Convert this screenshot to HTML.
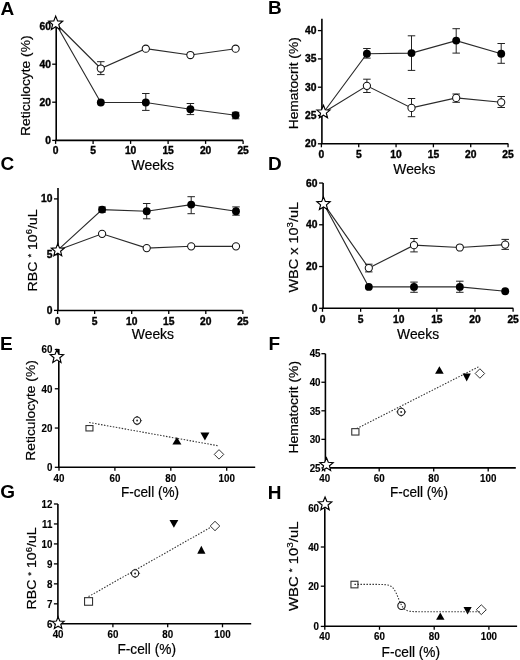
<!DOCTYPE html>
<html><head><meta charset="utf-8"><style>
html,body{margin:0;padding:0;background:#fff;}
svg{display:block;filter:blur(0.35px);}
text{font-family:"Liberation Sans", sans-serif;fill:#000;}
</style></head><body>
<svg width="520" height="660" viewBox="0 0 520 660">
<rect width="520" height="660" fill="#fff"/>
<text x="0.6" y="14.7" font-size="19" font-weight="bold" text-anchor="start" >A</text>
<text x="268.0" y="13.6" font-size="19" font-weight="bold" text-anchor="start" >B</text>
<text x="0.4" y="170.0" font-size="19" font-weight="bold" text-anchor="start" >C</text>
<text x="268.0" y="170.2" font-size="19" font-weight="bold" text-anchor="start" >D</text>
<text x="0.0" y="350.0" font-size="19" font-weight="bold" text-anchor="start" >E</text>
<text x="268.4" y="350.2" font-size="19" font-weight="bold" text-anchor="start" >F</text>
<text x="0.2" y="498.2" font-size="19" font-weight="bold" text-anchor="start" >G</text>
<text x="267.8" y="499.1" font-size="19" font-weight="bold" text-anchor="start" >H</text>
<path d="M56.2,24V140.4" stroke="#000" stroke-width="1.6" fill="none"/>
<path d="M55.400000000000006,140.4H243.1" stroke="#000" stroke-width="1.6" fill="none"/>
<path d="M52.2,140.4H56.2" stroke="#000" stroke-width="1.3" fill="none"/>
<text transform="translate(51.00,143.98) scale(1.03,1)" font-size="10" font-weight="bold" text-anchor="end" stroke="#000" stroke-width="0.35">0</text>
<path d="M52.2,102.2H56.2" stroke="#000" stroke-width="1.3" fill="none"/>
<text transform="translate(51.00,105.78) scale(1.03,1)" font-size="10" font-weight="bold" text-anchor="end" stroke="#000" stroke-width="0.35">20</text>
<path d="M52.2,64.2H56.2" stroke="#000" stroke-width="1.3" fill="none"/>
<text transform="translate(51.00,67.78) scale(1.03,1)" font-size="10" font-weight="bold" text-anchor="end" stroke="#000" stroke-width="0.35">40</text>
<path d="M52.2,26.3H56.2" stroke="#000" stroke-width="1.3" fill="none"/>
<text transform="translate(51.00,29.88) scale(1.03,1)" font-size="10" font-weight="bold" text-anchor="end" stroke="#000" stroke-width="0.35">60</text>
<path d="M55.6,140.4V143.9" stroke="#000" stroke-width="1.3" fill="none"/>
<text transform="translate(55.60,154.48) scale(1.03,1)" font-size="10" font-weight="bold" text-anchor="middle" stroke="#000" stroke-width="0.35">0</text>
<path d="M93.1,140.4V143.9" stroke="#000" stroke-width="1.3" fill="none"/>
<text transform="translate(93.10,154.48) scale(1.03,1)" font-size="10" font-weight="bold" text-anchor="middle" stroke="#000" stroke-width="0.35">5</text>
<path d="M130.6,140.4V143.9" stroke="#000" stroke-width="1.3" fill="none"/>
<text transform="translate(130.60,154.48) scale(1.03,1)" font-size="10" font-weight="bold" text-anchor="middle" stroke="#000" stroke-width="0.35">10</text>
<path d="M168.1,140.4V143.9" stroke="#000" stroke-width="1.3" fill="none"/>
<text transform="translate(168.10,154.48) scale(1.03,1)" font-size="10" font-weight="bold" text-anchor="middle" stroke="#000" stroke-width="0.35">15</text>
<path d="M205.6,140.4V143.9" stroke="#000" stroke-width="1.3" fill="none"/>
<text transform="translate(205.60,154.48) scale(1.03,1)" font-size="10" font-weight="bold" text-anchor="middle" stroke="#000" stroke-width="0.35">20</text>
<path d="M243.1,140.4V143.9" stroke="#000" stroke-width="1.3" fill="none"/>
<text transform="translate(243.10,154.48) scale(1.03,1)" font-size="10" font-weight="bold" text-anchor="middle" stroke="#000" stroke-width="0.35">25</text>
<text transform="translate(29.8,85.65) rotate(-90)" font-size="13.6" text-anchor="middle" textLength="100.5" lengthAdjust="spacingAndGlyphs" stroke="#000" stroke-width="0.2">Reticulocyte (%)</text>
<text x="152.7" y="170.0" font-size="14" text-anchor="middle" textLength="42.5" lengthAdjust="spacingAndGlyphs" stroke="#000" stroke-width="0.2">Weeks</text>
<path d="M55.7,23.5 L100.8,68.5 L145.8,48.7 L190.4,55 L235.6,48.7" stroke="#2a2a2a" stroke-width="1.15" fill="none"/>
<path d="M55.7,23.5 L100.8,102.5 L145.8,102.5 L190.4,109.2 L235.6,115.2" stroke="#2a2a2a" stroke-width="1.15" fill="none"/>
<path d="M97.05,61.7H104.55M100.8,61.7V74.6M97.05,74.6H104.55" stroke="#222" stroke-width="1.0" fill="none"/>
<path d="M142.05,93.5H149.55M145.8,93.5V110.4M142.05,110.4H149.55" stroke="#222" stroke-width="1.0" fill="none"/>
<path d="M186.65,103.5H194.15M190.4,103.5V114.6M186.65,114.6H194.15" stroke="#222" stroke-width="1.0" fill="none"/>
<path d="M231.85,112.3H239.35M235.6,112.3V118.8M231.85,118.8H239.35" stroke="#222" stroke-width="1.0" fill="none"/>
<circle cx="100.8" cy="68.5" r="3.6" fill="#fff" stroke="#111" stroke-width="1.05"/>
<circle cx="145.8" cy="48.7" r="3.6" fill="#fff" stroke="#111" stroke-width="1.05"/>
<circle cx="190.4" cy="55" r="3.6" fill="#fff" stroke="#111" stroke-width="1.05"/>
<circle cx="235.6" cy="48.7" r="3.6" fill="#fff" stroke="#111" stroke-width="1.05"/>
<circle cx="100.8" cy="102.5" r="3.95" fill="#000"/>
<circle cx="145.8" cy="102.5" r="3.95" fill="#000"/>
<circle cx="190.4" cy="109.2" r="3.95" fill="#000"/>
<circle cx="235.6" cy="115.2" r="3.95" fill="#000"/>
<polygon points="55.70,16.15 57.60,20.88 62.69,21.23 58.78,24.50 60.02,29.45 55.70,26.73 51.38,29.45 52.62,24.50 48.71,21.23 53.80,20.88" fill="#fff" stroke="#000" stroke-width="1.15" stroke-linejoin="miter"/>
<path d="M321.9,18.7V143.8" stroke="#000" stroke-width="1.6" fill="none"/>
<path d="M321.09999999999997,143.8H508.3" stroke="#000" stroke-width="1.6" fill="none"/>
<path d="M317.9,143.8H321.9" stroke="#000" stroke-width="1.3" fill="none"/>
<text transform="translate(316.50,147.38) scale(1.03,1)" font-size="10" font-weight="bold" text-anchor="end" stroke="#000" stroke-width="0.35">20</text>
<path d="M317.9,115.50000000000001H321.9" stroke="#000" stroke-width="1.3" fill="none"/>
<text transform="translate(316.50,119.08) scale(1.03,1)" font-size="10" font-weight="bold" text-anchor="end" stroke="#000" stroke-width="0.35">25</text>
<path d="M317.9,87.20000000000002H321.9" stroke="#000" stroke-width="1.3" fill="none"/>
<text transform="translate(316.50,90.78) scale(1.03,1)" font-size="10" font-weight="bold" text-anchor="end" stroke="#000" stroke-width="0.35">30</text>
<path d="M317.9,58.900000000000006H321.9" stroke="#000" stroke-width="1.3" fill="none"/>
<text transform="translate(316.50,62.48) scale(1.03,1)" font-size="10" font-weight="bold" text-anchor="end" stroke="#000" stroke-width="0.35">35</text>
<path d="M317.9,30.60000000000001H321.9" stroke="#000" stroke-width="1.3" fill="none"/>
<text transform="translate(316.50,34.18) scale(1.03,1)" font-size="10" font-weight="bold" text-anchor="end" stroke="#000" stroke-width="0.35">40</text>
<path d="M321.4,143.8V147.3" stroke="#000" stroke-width="1.3" fill="none"/>
<text transform="translate(321.40,157.98) scale(1.03,1)" font-size="10" font-weight="bold" text-anchor="middle" stroke="#000" stroke-width="0.35">0</text>
<path d="M358.72999999999996,143.8V147.3" stroke="#000" stroke-width="1.3" fill="none"/>
<text transform="translate(358.73,157.98) scale(1.03,1)" font-size="10" font-weight="bold" text-anchor="middle" stroke="#000" stroke-width="0.35">5</text>
<path d="M396.05999999999995,143.8V147.3" stroke="#000" stroke-width="1.3" fill="none"/>
<text transform="translate(396.06,157.98) scale(1.03,1)" font-size="10" font-weight="bold" text-anchor="middle" stroke="#000" stroke-width="0.35">10</text>
<path d="M433.39,143.8V147.3" stroke="#000" stroke-width="1.3" fill="none"/>
<text transform="translate(433.39,157.98) scale(1.03,1)" font-size="10" font-weight="bold" text-anchor="middle" stroke="#000" stroke-width="0.35">15</text>
<path d="M470.71999999999997,143.8V147.3" stroke="#000" stroke-width="1.3" fill="none"/>
<text transform="translate(470.72,157.98) scale(1.03,1)" font-size="10" font-weight="bold" text-anchor="middle" stroke="#000" stroke-width="0.35">20</text>
<path d="M508.04999999999995,143.8V147.3" stroke="#000" stroke-width="1.3" fill="none"/>
<text transform="translate(508.05,157.98) scale(1.03,1)" font-size="10" font-weight="bold" text-anchor="middle" stroke="#000" stroke-width="0.35">25</text>
<text transform="translate(297.6,83.25) rotate(-90)" font-size="13.6" text-anchor="middle" textLength="92.25" lengthAdjust="spacingAndGlyphs" stroke="#000" stroke-width="0.2">Hematocrit (%)</text>
<text x="414.35" y="173.6" font-size="14" text-anchor="middle" textLength="42" lengthAdjust="spacingAndGlyphs" stroke="#000" stroke-width="0.2">Weeks</text>
<path d="M323.5,112.5 L366.9,53.7 L411.5,53.1 L456.2,40.6 L501.2,53.7" stroke="#2a2a2a" stroke-width="1.15" fill="none"/>
<path d="M323.5,112.5 L366.9,85.8 L411.5,107.9 L456.2,97.9 L501.2,102.3" stroke="#2a2a2a" stroke-width="1.15" fill="none"/>
<path d="M363.15,48.5H370.65M366.9,48.5V58.1M363.15,58.1H370.65" stroke="#222" stroke-width="1.0" fill="none"/>
<path d="M407.75,35.8H415.25M411.5,35.8V70.4M407.75,70.4H415.25" stroke="#222" stroke-width="1.0" fill="none"/>
<path d="M452.45,28.7H459.95M456.2,28.7V53.1M452.45,53.1H459.95" stroke="#222" stroke-width="1.0" fill="none"/>
<path d="M497.45,43.5H504.95M501.2,43.5V63.3M497.45,63.3H504.95" stroke="#222" stroke-width="1.0" fill="none"/>
<path d="M363.15,79.2H370.65M366.9,79.2V92.5M363.15,92.5H370.65" stroke="#222" stroke-width="1.0" fill="none"/>
<path d="M407.75,98.5H415.25M411.5,98.5V116.7M407.75,116.7H415.25" stroke="#222" stroke-width="1.0" fill="none"/>
<path d="M452.45,94H459.95M456.2,94V102.3M452.45,102.3H459.95" stroke="#222" stroke-width="1.0" fill="none"/>
<path d="M497.45,96.5H504.95M501.2,96.5V107.5M497.45,107.5H504.95" stroke="#222" stroke-width="1.0" fill="none"/>
<circle cx="366.9" cy="85.8" r="3.6" fill="#fff" stroke="#111" stroke-width="1.05"/>
<circle cx="411.5" cy="107.9" r="3.6" fill="#fff" stroke="#111" stroke-width="1.05"/>
<circle cx="456.2" cy="97.9" r="3.6" fill="#fff" stroke="#111" stroke-width="1.05"/>
<circle cx="501.2" cy="102.3" r="3.6" fill="#fff" stroke="#111" stroke-width="1.05"/>
<circle cx="366.9" cy="53.7" r="3.95" fill="#000"/>
<circle cx="411.5" cy="53.1" r="3.95" fill="#000"/>
<circle cx="456.2" cy="40.6" r="3.95" fill="#000"/>
<circle cx="501.2" cy="53.7" r="3.95" fill="#000"/>
<polygon points="323.45,105.30 325.23,109.74 330.01,110.07 326.34,113.14 327.51,117.78 323.45,115.24 319.39,117.78 320.56,113.14 316.89,110.07 321.67,109.74" fill="#fff" stroke="#000" stroke-width="1.15" stroke-linejoin="miter"/>
<path d="M58.0,187.9V310.5" stroke="#000" stroke-width="1.6" fill="none"/>
<path d="M57.2,310.5H242.5" stroke="#000" stroke-width="1.6" fill="none"/>
<path d="M54.0,310.4H58.0" stroke="#000" stroke-width="1.3" fill="none"/>
<text transform="translate(52.50,313.98) scale(1.03,1)" font-size="10" font-weight="bold" text-anchor="end" stroke="#000" stroke-width="0.35">0</text>
<path d="M54.0,254.64999999999998H58.0" stroke="#000" stroke-width="1.3" fill="none"/>
<text transform="translate(52.50,258.23) scale(1.03,1)" font-size="10" font-weight="bold" text-anchor="end" stroke="#000" stroke-width="0.35">5</text>
<path d="M54.0,198.89999999999998H58.0" stroke="#000" stroke-width="1.3" fill="none"/>
<text transform="translate(52.50,202.48) scale(1.03,1)" font-size="10" font-weight="bold" text-anchor="end" stroke="#000" stroke-width="0.35">10</text>
<path d="M57.6,310.5V314.0" stroke="#000" stroke-width="1.3" fill="none"/>
<text transform="translate(57.60,324.88) scale(1.03,1)" font-size="10" font-weight="bold" text-anchor="middle" stroke="#000" stroke-width="0.35">0</text>
<path d="M94.65,310.5V314.0" stroke="#000" stroke-width="1.3" fill="none"/>
<text transform="translate(94.65,324.88) scale(1.03,1)" font-size="10" font-weight="bold" text-anchor="middle" stroke="#000" stroke-width="0.35">5</text>
<path d="M131.7,310.5V314.0" stroke="#000" stroke-width="1.3" fill="none"/>
<text transform="translate(131.70,324.88) scale(1.03,1)" font-size="10" font-weight="bold" text-anchor="middle" stroke="#000" stroke-width="0.35">10</text>
<path d="M168.75,310.5V314.0" stroke="#000" stroke-width="1.3" fill="none"/>
<text transform="translate(168.75,324.88) scale(1.03,1)" font-size="10" font-weight="bold" text-anchor="middle" stroke="#000" stroke-width="0.35">15</text>
<path d="M205.79999999999998,310.5V314.0" stroke="#000" stroke-width="1.3" fill="none"/>
<text transform="translate(205.80,324.88) scale(1.03,1)" font-size="10" font-weight="bold" text-anchor="middle" stroke="#000" stroke-width="0.35">20</text>
<path d="M242.85,310.5V314.0" stroke="#000" stroke-width="1.3" fill="none"/>
<text transform="translate(242.85,324.88) scale(1.03,1)" font-size="10" font-weight="bold" text-anchor="middle" stroke="#000" stroke-width="0.35">25</text>
<text transform="translate(36.9,250.4) rotate(-90)" font-size="13.6" text-anchor="middle" textLength="82" lengthAdjust="spacingAndGlyphs" stroke="#000" stroke-width="0.2">RBC <tspan font-size="9" dy="-2.5">*</tspan><tspan dy="2.5"> 10</tspan><tspan font-size="9" dy="-4.5">6</tspan><tspan dy="4.5">/uL</tspan></text>
<text x="152.9" y="339.1" font-size="14" text-anchor="middle" textLength="42.3" lengthAdjust="spacingAndGlyphs" stroke="#000" stroke-width="0.2">Weeks</text>
<path d="M57.5,250.3 L102.1,209.6 L146.7,211.2 L191.2,204.6 L236,211.2" stroke="#2a2a2a" stroke-width="1.15" fill="none"/>
<path d="M57.5,250.3 L102.1,233.8 L146.7,248.1 L191.2,246.3 L236,246.3" stroke="#2a2a2a" stroke-width="1.15" fill="none"/>
<path d="M98.35,207H105.85M102.1,207V212.2M98.35,212.2H105.85" stroke="#222" stroke-width="1.0" fill="none"/>
<path d="M142.95,203.5H150.45M146.7,203.5V218.8M142.95,218.8H150.45" stroke="#222" stroke-width="1.0" fill="none"/>
<path d="M187.45,196.7H194.95M191.2,196.7V213.7M187.45,213.7H194.95" stroke="#222" stroke-width="1.0" fill="none"/>
<path d="M232.25,206.9H239.75M236,206.9V215.2M232.25,215.2H239.75" stroke="#222" stroke-width="1.0" fill="none"/>
<circle cx="102.1" cy="233.8" r="3.6" fill="#fff" stroke="#111" stroke-width="1.05"/>
<circle cx="146.7" cy="248.1" r="3.6" fill="#fff" stroke="#111" stroke-width="1.05"/>
<circle cx="191.2" cy="246.3" r="3.6" fill="#fff" stroke="#111" stroke-width="1.05"/>
<circle cx="236" cy="246.3" r="3.6" fill="#fff" stroke="#111" stroke-width="1.05"/>
<circle cx="102.1" cy="209.6" r="3.95" fill="#000"/>
<circle cx="146.7" cy="211.2" r="3.95" fill="#000"/>
<circle cx="191.2" cy="204.6" r="3.95" fill="#000"/>
<circle cx="236" cy="211.2" r="3.95" fill="#000"/>
<polygon points="57.80,243.60 59.53,247.92 64.17,248.23 60.60,251.21 61.74,255.72 57.80,253.25 53.86,255.72 55.00,251.21 51.43,248.23 56.07,247.92" fill="#fff" stroke="#000" stroke-width="1.15" stroke-linejoin="miter"/>
<path d="M323.1,183V308.3" stroke="#000" stroke-width="1.6" fill="none"/>
<path d="M322.3,308.3H513.3" stroke="#000" stroke-width="1.6" fill="none"/>
<path d="M319.1,308.3H323.1" stroke="#000" stroke-width="1.3" fill="none"/>
<text transform="translate(317.50,311.88) scale(1.03,1)" font-size="10" font-weight="bold" text-anchor="end" stroke="#000" stroke-width="0.35">0</text>
<path d="M319.1,266.54H323.1" stroke="#000" stroke-width="1.3" fill="none"/>
<text transform="translate(317.50,270.12) scale(1.03,1)" font-size="10" font-weight="bold" text-anchor="end" stroke="#000" stroke-width="0.35">20</text>
<path d="M319.1,224.78H323.1" stroke="#000" stroke-width="1.3" fill="none"/>
<text transform="translate(317.50,228.36) scale(1.03,1)" font-size="10" font-weight="bold" text-anchor="end" stroke="#000" stroke-width="0.35">40</text>
<path d="M319.1,183.02H323.1" stroke="#000" stroke-width="1.3" fill="none"/>
<text transform="translate(317.50,186.60) scale(1.03,1)" font-size="10" font-weight="bold" text-anchor="end" stroke="#000" stroke-width="0.35">60</text>
<path d="M322.5,308.3V311.8" stroke="#000" stroke-width="1.3" fill="none"/>
<text transform="translate(322.50,322.58) scale(1.03,1)" font-size="10" font-weight="bold" text-anchor="middle" stroke="#000" stroke-width="0.35">0</text>
<path d="M360.62,308.3V311.8" stroke="#000" stroke-width="1.3" fill="none"/>
<text transform="translate(360.62,322.58) scale(1.03,1)" font-size="10" font-weight="bold" text-anchor="middle" stroke="#000" stroke-width="0.35">5</text>
<path d="M398.74,308.3V311.8" stroke="#000" stroke-width="1.3" fill="none"/>
<text transform="translate(398.74,322.58) scale(1.03,1)" font-size="10" font-weight="bold" text-anchor="middle" stroke="#000" stroke-width="0.35">10</text>
<path d="M436.86,308.3V311.8" stroke="#000" stroke-width="1.3" fill="none"/>
<text transform="translate(436.86,322.58) scale(1.03,1)" font-size="10" font-weight="bold" text-anchor="middle" stroke="#000" stroke-width="0.35">15</text>
<path d="M474.98,308.3V311.8" stroke="#000" stroke-width="1.3" fill="none"/>
<text transform="translate(474.98,322.58) scale(1.03,1)" font-size="10" font-weight="bold" text-anchor="middle" stroke="#000" stroke-width="0.35">20</text>
<path d="M513.1,308.3V311.8" stroke="#000" stroke-width="1.3" fill="none"/>
<text transform="translate(513.10,322.58) scale(1.03,1)" font-size="10" font-weight="bold" text-anchor="middle" stroke="#000" stroke-width="0.35">25</text>
<text transform="translate(297.6,247.25) rotate(-90)" font-size="13.6" text-anchor="middle" textLength="90.6" lengthAdjust="spacingAndGlyphs" stroke="#000" stroke-width="0.2">WBC x 10<tspan font-size="9" dy="-4.5">3</tspan><tspan dy="4.5">/uL</tspan></text>
<text x="418.1" y="339.2" font-size="14" text-anchor="middle" textLength="42" lengthAdjust="spacingAndGlyphs" stroke="#000" stroke-width="0.2">Weeks</text>
<path d="M323.8,203.9 L368.8,268.1 L414,245.2 L459.8,247.5 L505.2,244.6" stroke="#2a2a2a" stroke-width="1.15" fill="none"/>
<path d="M323.8,203.9 L368.8,286.9 L414,286.9 L459.8,286.9 L505.2,291.2" stroke="#2a2a2a" stroke-width="1.15" fill="none"/>
<path d="M365.05,264.2H372.55M368.8,264.2V271.9M365.05,271.9H372.55" stroke="#222" stroke-width="1.0" fill="none"/>
<path d="M410.25,238.5H417.75M414,238.5V251.9M410.25,251.9H417.75" stroke="#222" stroke-width="1.0" fill="none"/>
<path d="M501.45,239.4H508.95M505.2,239.4V249.4M501.45,249.4H508.95" stroke="#222" stroke-width="1.0" fill="none"/>
<path d="M410.25,282.1H417.75M414,282.1V292.3M410.25,292.3H417.75" stroke="#222" stroke-width="1.0" fill="none"/>
<path d="M456.05,281.2H463.55M459.8,281.2V292.3M456.05,292.3H463.55" stroke="#222" stroke-width="1.0" fill="none"/>
<circle cx="368.8" cy="268.1" r="3.6" fill="#fff" stroke="#111" stroke-width="1.05"/>
<circle cx="414" cy="245.2" r="3.6" fill="#fff" stroke="#111" stroke-width="1.05"/>
<circle cx="459.8" cy="247.5" r="3.6" fill="#fff" stroke="#111" stroke-width="1.05"/>
<circle cx="505.2" cy="244.6" r="3.6" fill="#fff" stroke="#111" stroke-width="1.05"/>
<circle cx="368.8" cy="286.9" r="3.95" fill="#000"/>
<circle cx="414" cy="286.9" r="3.95" fill="#000"/>
<circle cx="459.8" cy="286.9" r="3.95" fill="#000"/>
<circle cx="505.2" cy="291.2" r="3.95" fill="#000"/>
<polygon points="323.50,196.90 325.31,201.41 330.16,201.74 326.43,204.85 327.61,209.56 323.50,206.98 319.39,209.56 320.57,204.85 316.84,201.74 321.69,201.41" fill="#fff" stroke="#000" stroke-width="1.15" stroke-linejoin="miter"/>
<path d="M58.8,349V467.3" stroke="#000" stroke-width="1.6" fill="none"/>
<path d="M58.0,467.3H255.2" stroke="#000" stroke-width="1.6" fill="none"/>
<path d="M54.8,467.3H58.8" stroke="#000" stroke-width="1.3" fill="none"/>
<text transform="translate(52.40,471.02) scale(0.94,1)" font-size="10.4" font-weight="bold" text-anchor="end" stroke="#000" stroke-width="0.15">0</text>
<path d="M54.8,428.04H58.8" stroke="#000" stroke-width="1.3" fill="none"/>
<text transform="translate(52.40,431.76) scale(0.94,1)" font-size="10.4" font-weight="bold" text-anchor="end" stroke="#000" stroke-width="0.15">20</text>
<path d="M54.8,388.78H58.8" stroke="#000" stroke-width="1.3" fill="none"/>
<text transform="translate(52.40,392.50) scale(0.94,1)" font-size="10.4" font-weight="bold" text-anchor="end" stroke="#000" stroke-width="0.15">40</text>
<path d="M54.8,349.52H58.8" stroke="#000" stroke-width="1.3" fill="none"/>
<text transform="translate(52.40,353.24) scale(0.94,1)" font-size="10.4" font-weight="bold" text-anchor="end" stroke="#000" stroke-width="0.15">60</text>
<path d="M59.0,467.3V470.8" stroke="#000" stroke-width="1.3" fill="none"/>
<text transform="translate(59.00,482.32) scale(0.94,1)" font-size="10.4" font-weight="bold" text-anchor="middle" stroke="#000" stroke-width="0.15">40</text>
<path d="M114.9,467.3V470.8" stroke="#000" stroke-width="1.3" fill="none"/>
<text transform="translate(114.90,482.32) scale(0.94,1)" font-size="10.4" font-weight="bold" text-anchor="middle" stroke="#000" stroke-width="0.15">60</text>
<path d="M170.8,467.3V470.8" stroke="#000" stroke-width="1.3" fill="none"/>
<text transform="translate(170.80,482.32) scale(0.94,1)" font-size="10.4" font-weight="bold" text-anchor="middle" stroke="#000" stroke-width="0.15">80</text>
<path d="M226.7,467.3V470.8" stroke="#000" stroke-width="1.3" fill="none"/>
<text transform="translate(226.70,482.32) scale(0.94,1)" font-size="10.4" font-weight="bold" text-anchor="middle" stroke="#000" stroke-width="0.15">100</text>
<text transform="translate(34.6,410.4) rotate(-90)" font-size="13.6" text-anchor="middle" textLength="100.5" lengthAdjust="spacingAndGlyphs" stroke="#000" stroke-width="0.2">Reticulocyte (%)</text>
<text x="150" y="497.2" font-size="14" text-anchor="middle" textLength="58" lengthAdjust="spacingAndGlyphs" stroke="#000" stroke-width="0.2">F-cell (%)</text>
<path d="M89.2,422.5 L218.3,445.8" stroke="#333" stroke-width="1.1" fill="none" stroke-dasharray="1.5,1.5"/>
<rect x="85.95" y="425.55" width="7.0" height="5.4" fill="#fff" stroke="#333" stroke-width="1.1"/>
<polygon points="137.1,416.1 141.6,420.6 137.1,425.1 132.6,420.6" fill="#fff" stroke="#333" stroke-width="0.9"/>
<circle cx="137.1" cy="420.6" r="3.6" fill="#fff" stroke="#222" stroke-width="1.1"/><circle cx="137.1" cy="420.6" r="1.0" fill="#333"/>
<polygon points="172.4,444.55 181.4,444.55 176.9,437.05" fill="#000"/>
<polygon points="200.4,432.4 209.4,432.4 204.9,440.4" fill="#000"/>
<polygon points="219,449.65 223.75,454.4 219,459.15 214.25,454.4" fill="#fff" stroke="#333" stroke-width="1.0"/>
<polygon points="56.90,349.80 58.71,354.31 63.56,354.64 59.83,357.75 61.01,362.46 56.90,359.88 52.79,362.46 53.97,357.75 50.24,354.64 55.09,354.31" fill="#fff" stroke="#000" stroke-width="1.15" stroke-linejoin="miter"/>
<path d="M325.4,353.7V467.9" stroke="#000" stroke-width="1.6" fill="none"/>
<path d="M324.59999999999997,467.9H515.8" stroke="#000" stroke-width="1.6" fill="none"/>
<path d="M321.4,467.9H325.4" stroke="#000" stroke-width="1.3" fill="none"/>
<text transform="translate(320.50,471.62) scale(0.94,1)" font-size="10.4" font-weight="bold" text-anchor="end" stroke="#000" stroke-width="0.15">25</text>
<path d="M321.4,439.34999999999997H325.4" stroke="#000" stroke-width="1.3" fill="none"/>
<text transform="translate(320.50,443.07) scale(0.94,1)" font-size="10.4" font-weight="bold" text-anchor="end" stroke="#000" stroke-width="0.15">30</text>
<path d="M321.4,410.79999999999995H325.4" stroke="#000" stroke-width="1.3" fill="none"/>
<text transform="translate(320.50,414.52) scale(0.94,1)" font-size="10.4" font-weight="bold" text-anchor="end" stroke="#000" stroke-width="0.15">35</text>
<path d="M321.4,382.25H325.4" stroke="#000" stroke-width="1.3" fill="none"/>
<text transform="translate(320.50,385.97) scale(0.94,1)" font-size="10.4" font-weight="bold" text-anchor="end" stroke="#000" stroke-width="0.15">40</text>
<path d="M321.4,353.7H325.4" stroke="#000" stroke-width="1.3" fill="none"/>
<text transform="translate(320.50,357.42) scale(0.94,1)" font-size="10.4" font-weight="bold" text-anchor="end" stroke="#000" stroke-width="0.15">45</text>
<path d="M324.7,467.9V471.4" stroke="#000" stroke-width="1.3" fill="none"/>
<text transform="translate(324.70,481.52) scale(0.94,1)" font-size="10.4" font-weight="bold" text-anchor="middle" stroke="#000" stroke-width="0.15">40</text>
<path d="M379.2,467.9V471.4" stroke="#000" stroke-width="1.3" fill="none"/>
<text transform="translate(379.20,481.52) scale(0.94,1)" font-size="10.4" font-weight="bold" text-anchor="middle" stroke="#000" stroke-width="0.15">60</text>
<path d="M433.7,467.9V471.4" stroke="#000" stroke-width="1.3" fill="none"/>
<text transform="translate(433.70,481.52) scale(0.94,1)" font-size="10.4" font-weight="bold" text-anchor="middle" stroke="#000" stroke-width="0.15">80</text>
<path d="M488.2,467.9V471.4" stroke="#000" stroke-width="1.3" fill="none"/>
<text transform="translate(488.20,481.52) scale(0.94,1)" font-size="10.4" font-weight="bold" text-anchor="middle" stroke="#000" stroke-width="0.15">100</text>
<text transform="translate(297.6,407.25) rotate(-90)" font-size="13.6" text-anchor="middle" textLength="92.6" lengthAdjust="spacingAndGlyphs" stroke="#000" stroke-width="0.2">Hematocrit (%)</text>
<text x="418.95" y="497.0" font-size="14" text-anchor="middle" textLength="58" lengthAdjust="spacingAndGlyphs" stroke="#000" stroke-width="0.2">F-cell (%)</text>
<path d="M356.7,428.6 L479.6,366.3" stroke="#333" stroke-width="1.1" fill="none" stroke-dasharray="1.5,1.5"/>
<rect x="351.75" y="428.65" width="7.2" height="6.4" fill="#fff" stroke="#333" stroke-width="1.1"/>
<polygon points="401.2,407.4 405.7,411.9 401.2,416.4 396.7,411.9" fill="#fff" stroke="#333" stroke-width="0.9"/>
<circle cx="401.2" cy="411.9" r="3.6" fill="#fff" stroke="#222" stroke-width="1.1"/><circle cx="401.2" cy="411.9" r="1.0" fill="#333"/>
<polygon points="435.09999999999997,373.7 443.7,373.7 439.4,366.3" fill="#000"/>
<polygon points="462.59999999999997,373.6 470.8,373.6 466.7,381.4" fill="#000"/>
<polygon points="479.9,368.75 484.65,373.5 479.9,378.25 475.15,373.5" fill="#fff" stroke="#333" stroke-width="1.0"/>
<polygon points="326.50,457.80 328.31,462.31 333.16,462.64 329.43,465.75 330.61,470.46 326.50,467.88 322.39,470.46 323.57,465.75 319.84,462.64 324.69,462.31" fill="#fff" stroke="#000" stroke-width="1.15" stroke-linejoin="miter"/>
<path d="M57.9,504V623.8" stroke="#000" stroke-width="1.6" fill="none"/>
<path d="M57.1,623.8H251.2" stroke="#000" stroke-width="1.6" fill="none"/>
<path d="M53.9,623.8H57.9" stroke="#000" stroke-width="1.3" fill="none"/>
<text transform="translate(52.40,627.52) scale(0.94,1)" font-size="10.4" font-weight="bold" text-anchor="end" stroke="#000" stroke-width="0.15">6</text>
<path d="M53.9,603.8299999999999H57.9" stroke="#000" stroke-width="1.3" fill="none"/>
<text transform="translate(52.40,607.55) scale(0.94,1)" font-size="10.4" font-weight="bold" text-anchor="end" stroke="#000" stroke-width="0.15">7</text>
<path d="M53.9,583.8599999999999H57.9" stroke="#000" stroke-width="1.3" fill="none"/>
<text transform="translate(52.40,587.58) scale(0.94,1)" font-size="10.4" font-weight="bold" text-anchor="end" stroke="#000" stroke-width="0.15">8</text>
<path d="M53.9,563.89H57.9" stroke="#000" stroke-width="1.3" fill="none"/>
<text transform="translate(52.40,567.61) scale(0.94,1)" font-size="10.4" font-weight="bold" text-anchor="end" stroke="#000" stroke-width="0.15">9</text>
<path d="M53.9,543.92H57.9" stroke="#000" stroke-width="1.3" fill="none"/>
<text transform="translate(52.40,547.64) scale(0.94,1)" font-size="10.4" font-weight="bold" text-anchor="end" stroke="#000" stroke-width="0.15">10</text>
<path d="M53.9,523.9499999999999H57.9" stroke="#000" stroke-width="1.3" fill="none"/>
<text transform="translate(52.40,527.67) scale(0.94,1)" font-size="10.4" font-weight="bold" text-anchor="end" stroke="#000" stroke-width="0.15">11</text>
<path d="M53.9,503.97999999999996H57.9" stroke="#000" stroke-width="1.3" fill="none"/>
<text transform="translate(52.40,507.70) scale(0.94,1)" font-size="10.4" font-weight="bold" text-anchor="end" stroke="#000" stroke-width="0.15">12</text>
<path d="M58.1,623.8V627.3" stroke="#000" stroke-width="1.3" fill="none"/>
<text transform="translate(58.10,638.02) scale(0.94,1)" font-size="10.4" font-weight="bold" text-anchor="middle" stroke="#000" stroke-width="0.15">40</text>
<path d="M112.9,623.8V627.3" stroke="#000" stroke-width="1.3" fill="none"/>
<text transform="translate(112.90,638.02) scale(0.94,1)" font-size="10.4" font-weight="bold" text-anchor="middle" stroke="#000" stroke-width="0.15">60</text>
<path d="M167.70000000000002,623.8V627.3" stroke="#000" stroke-width="1.3" fill="none"/>
<text transform="translate(167.70,638.02) scale(0.94,1)" font-size="10.4" font-weight="bold" text-anchor="middle" stroke="#000" stroke-width="0.15">80</text>
<path d="M222.5,623.8V627.3" stroke="#000" stroke-width="1.3" fill="none"/>
<text transform="translate(222.50,638.02) scale(0.94,1)" font-size="10.4" font-weight="bold" text-anchor="middle" stroke="#000" stroke-width="0.15">100</text>
<text transform="translate(36.4,568.45) rotate(-90)" font-size="13.6" text-anchor="middle" textLength="82" lengthAdjust="spacingAndGlyphs" stroke="#000" stroke-width="0.2">RBC <tspan font-size="9" dy="-2.5">*</tspan><tspan dy="2.5"> 10</tspan><tspan font-size="9" dy="-4.5">6</tspan><tspan dy="4.5">/uL</tspan></text>
<text x="146.7" y="653.6" font-size="14" text-anchor="middle" textLength="58.5" lengthAdjust="spacingAndGlyphs" stroke="#000" stroke-width="0.2">F-cell (%)</text>
<path d="M88.5,596.6 L214.9,524.9" stroke="#333" stroke-width="1.1" fill="none" stroke-dasharray="1.5,1.5"/>
<rect x="84.55" y="597.65" width="8.0" height="7.6" fill="#fff" stroke="#333" stroke-width="1.1"/>
<polygon points="135.1,568.9 139.6,573.4 135.1,577.9 130.6,573.4" fill="#fff" stroke="#333" stroke-width="0.9"/>
<circle cx="135.1" cy="573.4" r="3.6" fill="#fff" stroke="#222" stroke-width="1.1"/><circle cx="135.1" cy="573.4" r="1.0" fill="#333"/>
<polygon points="169.5,520.1 178.3,520.1 173.9,527.6999999999999" fill="#000"/>
<polygon points="197.25,553.65 205.45,553.65 201.35,545.85" fill="#000"/>
<polygon points="215.0,521.3 219.8,526.0 215.0,530.7 210.2,526.0" fill="#fff" stroke="#333" stroke-width="1.0"/>
<polygon points="58.10,616.90 59.76,621.02 64.19,621.32 60.78,624.17 61.86,628.48 58.10,626.12 54.34,628.48 55.42,624.17 52.01,621.32 56.44,621.02" fill="#fff" stroke="#000" stroke-width="1.15" stroke-linejoin="miter"/>
<path d="M324.8,508.5V626.3" stroke="#000" stroke-width="1.6" fill="none"/>
<path d="M324.0,626.3H517.1" stroke="#000" stroke-width="1.6" fill="none"/>
<path d="M320.8,626.4H324.8" stroke="#000" stroke-width="1.3" fill="none"/>
<text transform="translate(319.00,630.12) scale(0.94,1)" font-size="10.4" font-weight="bold" text-anchor="end" stroke="#000" stroke-width="0.15">0</text>
<path d="M320.8,586.2H324.8" stroke="#000" stroke-width="1.3" fill="none"/>
<text transform="translate(319.00,589.92) scale(0.94,1)" font-size="10.4" font-weight="bold" text-anchor="end" stroke="#000" stroke-width="0.15">20</text>
<path d="M320.8,547.0H324.8" stroke="#000" stroke-width="1.3" fill="none"/>
<text transform="translate(319.00,550.72) scale(0.94,1)" font-size="10.4" font-weight="bold" text-anchor="end" stroke="#000" stroke-width="0.15">40</text>
<path d="M320.8,508.0H324.8" stroke="#000" stroke-width="1.3" fill="none"/>
<text transform="translate(319.00,511.72) scale(0.94,1)" font-size="10.4" font-weight="bold" text-anchor="end" stroke="#000" stroke-width="0.15">60</text>
<path d="M324.8,626.3V629.8" stroke="#000" stroke-width="1.3" fill="none"/>
<text transform="translate(324.80,640.22) scale(0.94,1)" font-size="10.4" font-weight="bold" text-anchor="middle" stroke="#000" stroke-width="0.15">40</text>
<path d="M379.5,626.3V629.8" stroke="#000" stroke-width="1.3" fill="none"/>
<text transform="translate(379.50,640.22) scale(0.94,1)" font-size="10.4" font-weight="bold" text-anchor="middle" stroke="#000" stroke-width="0.15">60</text>
<path d="M434.2,626.3V629.8" stroke="#000" stroke-width="1.3" fill="none"/>
<text transform="translate(434.20,640.22) scale(0.94,1)" font-size="10.4" font-weight="bold" text-anchor="middle" stroke="#000" stroke-width="0.15">80</text>
<path d="M488.9,626.3V629.8" stroke="#000" stroke-width="1.3" fill="none"/>
<text transform="translate(488.90,640.22) scale(0.94,1)" font-size="10.4" font-weight="bold" text-anchor="middle" stroke="#000" stroke-width="0.15">100</text>
<text transform="translate(297.6,566.25) rotate(-90)" font-size="13.6" text-anchor="middle" textLength="89.6" lengthAdjust="spacingAndGlyphs" stroke="#000" stroke-width="0.2">WBC <tspan font-size="9" dy="-2.5">*</tspan><tspan dy="2.5"> 10</tspan><tspan font-size="9" dy="-4.5">3</tspan><tspan dy="4.5">/uL</tspan></text>
<text x="410.85" y="656.7" font-size="14" text-anchor="middle" textLength="58.5" lengthAdjust="spacingAndGlyphs" stroke="#000" stroke-width="0.2">F-cell (%)</text>
<rect x="350.95" y="581.25" width="7.0" height="6.6" fill="#fff" stroke="#333" stroke-width="1.1"/>
<circle cx="401.5" cy="605.8" r="3.7" fill="#fff" stroke="#111" stroke-width="1.1"/>
<polygon points="436.1,619.8000000000001 444.5,619.8000000000001 440.3,612.6" fill="#000"/>
<polygon points="463.5,607.0 471.70000000000005,607.0 467.6,614.5999999999999" fill="#000"/>
<polygon points="481.3,604.8000000000001 486.3,609.7 481.3,614.6 476.3,609.7" fill="#fff" stroke="#333" stroke-width="1.0"/>
<path d="M354.45,584.4000043132118 L354.95,584.4000051564801 L355.45,584.4000061646145 L355.95,584.4000073698473 L356.45,584.400008810713 L356.95,584.4000105332796 L357.45,584.4000125926219 L357.95,584.4000150545824 L358.45,584.4000179978758 L358.95,584.4000215166067 L359.45,584.4000257232774 L359.95,584.4000307523853 L360.45,584.4000367647229 L360.95,584.4000439525189 L361.45,584.4000525455834 L361.95,584.4000628186561 L362.45,584.4000751001894 L362.95,584.4000897828495 L363.45,584.4001073360704 L363.95,584.4001283210615 L364.45,584.4001534087498 L364.95,584.4001834012281 L365.45,584.4002192573977 L365.95,584.4002621236214 L366.45,584.4003133703699 L366.95,584.4003746360291 L367.45,584.4004478792708 L367.95,584.4005354416564 L368.45,584.4006401224758 L368.95,584.4007652682078 L369.45,584.4009148794601 L369.95,584.4010937387978 L370.45,584.4013075635402 L370.95,584.4015631883929 L371.45,584.4018687837364 L371.95,584.4022341165188 L372.45,584.40267086205 L372.95,584.4031929766055 L373.45,584.4038171426652 L373.95,584.4045633008939 L374.45,584.4054552856953 L374.95,584.4065215843995 L375.45,584.40779624399 L375.95,584.4093199538362 L376.45,584.411141338297 L376.95,584.413318499452 L377.45,584.4159208577546 L377.95,584.4190313472758 L378.45,584.4227490326042 L378.95,584.4271922266304 L379.45,584.4325022025524 L379.95,584.4388476097499 L380.45,584.4464297218321 L380.95,584.4554886663188 L381.45,584.4663108090429 L381.95,584.4792374922895 L382.45,584.4946753533931 L382.95,584.5131084790264 L383.45,584.5351126780447 L383.95,584.5613721797754 L384.45,584.5926990808896 L384.95,584.6300558662069 L385.45,584.6745813079376 L385.95,584.7276199911145 L386.45,584.7907556026151 L386.95,584.865847933311 L387.45,584.9550732462545 L387.95,585.0609672189781 L388.45,585.1864690274864 L388.95,585.334964250342 L389.45,585.5103230807312 L389.95,585.7169288026154 L390.45,585.9596896080462 L390.95,586.2440246681118 L391.45,586.5758130969508 L391.95,586.9612924199682 L392.45,587.4068919659318 L392.95,587.9189871206606 L393.45,588.5035637372071 L393.95,589.1657894287259 L394.45,589.9095009677083 L394.95,590.7366347498071 L395.45,591.6466488614965 L395.95,592.6360071106216 L396.45,593.6978114892011 L396.95,594.8216725855672 L397.45,595.9938909661241 L397.95,597.1979841068963 L398.45,598.4155375828842 L398.95,599.6272979316126 L399.45,600.8143744889663 L399.95,601.9593938139428 L400.45,603.0474607005332 L400.95,604.0668208466418 L401.45,605.0091791414862 L401.95,605.869687376036 L402.45,606.6466615770274 L402.95,607.3411144902977 L403.45,607.9561928841471 L403.95,608.4965975595838 L404.45,608.9680435906628 L404.95,609.3767960713083 L405.45,609.7292970922994 L405.95,610.0318850301496 L406.45,610.290597860254 L406.95,610.5110473647039 L407.45,610.6983495981481 L407.95,610.8570976034198 L408.45,610.9913641485001 L408.95,611.1047244859454 L409.45,611.2002913735572 L409.95,611.2807566009635 L410.45,611.3484349396343 L410.95,611.4053077573825 L411.45,611.4530645421598 L411.95,611.4931413133874 L412.45,611.5267554160729 L412.95,611.5549365436767 L413.45,611.5785540628526 L413.95,611.5983408512967 L414.45,611.6149139356824 L414.95,611.6287922500858 L415.45,611.640411841042 L415.95,611.6501388338492 L416.45,611.6582804532227 L416.95,611.6650943648194 L417.45,611.6707965757328 L417.95,611.6755681038873 L418.45,611.6795605995371 L418.95,611.6829010774836 L419.45,611.6856958964813 L419.95,611.6880341026473 L420.45,611.6899902364645 L420.95,611.6916266880004 L421.45,611.6929956720497 L421.95,611.6941408838353 L422.45,611.6950988864368 L422.95,611.6959002730736 L423.45,611.6965706405359 L423.95,611.697131404282 L424.45,611.697600480837 L424.95,611.697992859015 L425.45,611.69832107802 L425.95,611.6985956275648 L426.45,611.6988252827014 L426.95,611.6990173839939 L427.45,611.6991780719451 L427.95,611.6993124831339 L428.45,611.6994249143123 L428.95,611.6995189596914 L429.45,611.6995976257921 L429.95,611.6996634275256 L430.45,611.6997184685707 L430.95,611.6997645086109 L431.45,611.6998030195805 L431.95,611.6998352327154 L432.45,611.6998621779114 L432.95,611.6998847166469 L433.45,611.6999035695234 L433.95,611.6999193393016 L434.45,611.6999325301722 L434.95,611.6999435638744 L435.45,611.6999527931792 L435.95,611.6999605131682 L436.45,611.6999669706668 L436.95,611.6999723721362 L437.45,611.6999768902742 L437.95,611.6999806695366 L438.45,611.6999838307554 L438.95,611.6999864750027 L439.45,611.6999886868216 L439.95,611.6999905369295 L440.45,611.6999920844788 L440.95,611.6999933789486 L441.45,611.6999944617266 L441.95,611.6999953674319 L442.45,611.699996125022 L442.95,611.6999967587192 L443.45,611.6999972887842 L443.95,611.6999977321647 L444.45,611.6999981030367 L444.95,611.6999984132578 L445.45,611.6999986727468 L445.95,611.6999988898001 L446.45,611.6999990713574 L446.95,611.6999992232236 L447.45,611.6999993502543 L447.95,611.6999994565109 L448.45,611.6999995453907 L448.95,611.6999996197355 L449.45,611.6999996819223 L449.95,611.6999997339394 L450.45,611.6999997774499 L450.95,611.6999998138447 L451.45,611.6999998442877 L451.95,611.6999998697522 L452.45,611.6999998910524 L452.95,611.6999999088692 L453.45,611.6999999237723 L453.95,611.6999999362383 L454.45,611.6999999466656 L454.95,611.6999999553876 L455.45,611.6999999626834 L455.95,611.699999968786 L456.45,611.6999999738906 L456.95,611.6999999781603 L457.45,611.6999999817319 L457.95,611.6999999847194 L458.45,611.6999999872183 L458.95,611.6999999893086 L459.45,611.699999991057 L459.95,611.6999999925195 L460.45,611.6999999937428 L460.95,611.6999999947661 L461.45,611.6999999956221 L461.95,611.699999996338 L462.45,611.6999999969369 L462.95,611.6999999974378 L463.45,611.6999999978568 L463.95,611.6999999982073 L464.45,611.6999999985004 L464.95,611.6999999987456 L465.45,611.6999999989508 L465.95,611.6999999991224 L466.45,611.6999999992659 L466.95,611.6999999993859 L467.45,611.6999999994864 L467.95,611.6999999995703 L468.45,611.6999999996406 L468.95,611.6999999996993 L469.45,611.6999999997486 L469.95,611.6999999997896 L470.45,611.6999999998241 L470.95,611.6999999998528 L471.45,611.6999999998769 L471.95,611.699999999897 L472.45,611.6999999999139 L472.95,611.699999999928 L473.45,611.6999999999397 L473.95,611.6999999999496 L474.45,611.6999999999579 L474.95,611.6999999999647 L475.45,611.6999999999705 L475.95,611.6999999999753 L476.45,611.6999999999794 L476.95,611.6999999999828 L477.45,611.6999999999855 L477.95,611.6999999999879 L478.45,611.6999999999899 L478.95,611.6999999999915 L479.45,611.6999999999929 L479.95,611.699999999994 L480.45,611.699999999995 L480.95,611.6999999999958" stroke="#333" stroke-width="1.1" fill="none" stroke-dasharray="1.5,1.5"/>
<polygon points="325.05,497.00 326.89,501.57 331.80,501.91 328.02,505.07 329.22,509.84 325.05,507.22 320.88,509.84 322.08,505.07 318.30,501.91 323.21,501.57" fill="#fff" stroke="#000" stroke-width="1.15" stroke-linejoin="miter"/>
</svg></body></html>
